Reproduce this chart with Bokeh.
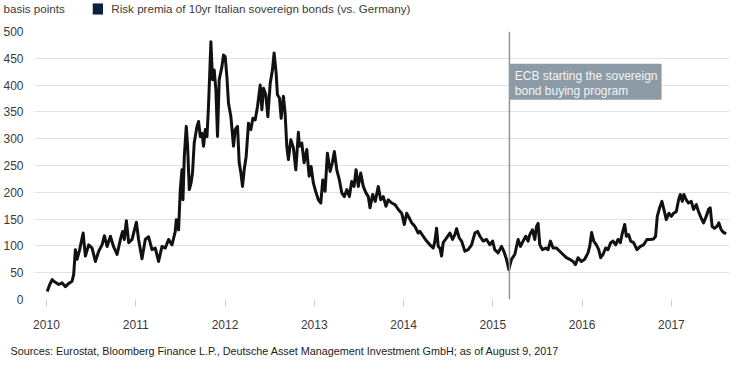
from bokeh.plotting import figure
from bokeh.models import Range1d, FixedTicker, Label, BoxAnnotation, Span
from bokeh.embed import file_html
from bokeh.resources import INLINE

# ---- data ----
years = [
    2010.008, 2010.037, 2010.064, 2010.082, 2010.138, 2010.176, 2010.213, 2010.249, 2010.287, 2010.305,
    2010.324, 2010.343, 2010.372, 2010.411, 2010.436, 2010.473, 2010.511, 2010.548, 2010.585, 2010.623,
    2010.649, 2010.679, 2010.716, 2010.753, 2010.791, 2010.828, 2010.853, 2010.872, 2010.895, 2010.921,
    2010.959,
    2011.007, 2011.032, 2011.070, 2011.107, 2011.144, 2011.182, 2011.219, 2011.256, 2011.294, 2011.331,
    2011.368, 2011.406, 2011.443, 2011.454, 2011.480, 2011.499, 2011.518, 2011.529, 2011.544, 2011.566,
    2011.581, 2011.600, 2011.619, 2011.636, 2011.655, 2011.686, 2011.704, 2011.723, 2011.742, 2011.760,
    2011.779, 2011.798, 2011.815, 2011.842, 2011.860, 2011.879, 2011.898, 2011.916, 2011.935, 2011.965,
    2011.983,
    2012.002, 2012.021, 2012.039, 2012.066, 2012.095, 2012.114, 2012.140, 2012.159, 2012.178, 2012.196,
    2012.215, 2012.237, 2012.263, 2012.290, 2012.312, 2012.338, 2012.364, 2012.394, 2012.413, 2012.431,
    2012.457, 2012.480, 2012.506, 2012.531, 2012.550, 2012.573, 2012.587, 2012.610, 2012.629, 2012.654,
    2012.673, 2012.692, 2012.710, 2012.737, 2012.766, 2012.793, 2012.822, 2012.833, 2012.860, 2012.886,
    2012.916, 2012.942, 2012.964, 2012.990,
    2013.020, 2013.046, 2013.073, 2013.095, 2013.121, 2013.147, 2013.177, 2013.202, 2013.225, 2013.252,
    2013.281, 2013.308, 2013.337, 2013.364, 2013.393, 2013.419, 2013.445, 2013.468, 2013.493, 2013.520,
    2013.549, 2013.579, 2013.605, 2013.624, 2013.654, 2013.683, 2013.717, 2013.744, 2013.773, 2013.803,
    2013.829, 2013.867, 2013.904, 2013.941, 2013.979,
    2014.008, 2014.035, 2014.064, 2014.091, 2014.128, 2014.164, 2014.183, 2014.220, 2014.258, 2014.295,
    2014.332, 2014.351, 2014.370, 2014.388, 2014.407, 2014.426, 2014.444, 2014.482, 2014.519, 2014.549,
    2014.575, 2014.594, 2014.623, 2014.650, 2014.687, 2014.724, 2014.762, 2014.799, 2014.829, 2014.855,
    2014.892, 2014.930, 2014.966, 2014.997,
    2015.022, 2015.059, 2015.097, 2015.123, 2015.153, 2015.179, 2015.209, 2015.246, 2015.283, 2015.310,
    2015.339, 2015.369, 2015.395, 2015.414, 2015.444, 2015.470, 2015.489, 2015.507, 2015.526, 2015.556,
    2015.593, 2015.619, 2015.645, 2015.675, 2015.713, 2015.749, 2015.786, 2015.824, 2015.861, 2015.898,
    2015.925, 2015.954, 2015.992,
    2016.029, 2016.066, 2016.085, 2016.107, 2016.130, 2016.160, 2016.186, 2016.208, 2016.234, 2016.264,
    2016.290, 2016.320, 2016.346, 2016.376, 2016.402, 2016.428, 2016.451, 2016.477, 2016.496, 2016.521,
    2016.544, 2016.577, 2016.614, 2016.652, 2016.689, 2016.726, 2016.764, 2016.801, 2016.823, 2016.842,
    2016.868, 2016.894, 2016.916, 2016.943, 2016.972, 2016.999,
    2017.025, 2017.055, 2017.081, 2017.100, 2017.122, 2017.140, 2017.167, 2017.192, 2017.223, 2017.248,
    2017.279, 2017.304, 2017.334, 2017.360, 2017.390, 2017.416, 2017.435, 2017.457, 2017.483, 2017.509,
    2017.531, 2017.558, 2017.584, 2017.614,
]

spread_bp = [
    15, 28, 37, 34, 28, 31, 24, 30, 34, 47,
    93, 75, 93, 124, 81, 102, 96, 71, 90, 102,
    119, 99, 118, 98, 84, 112, 127, 112, 147, 106,
    112,
    144, 112, 76, 112, 117, 93, 96, 71, 99, 96,
    112, 102, 127, 149, 130, 205, 242, 186, 267, 323,
    286, 205, 217, 236, 292, 323, 332, 304, 310, 286,
    317, 304, 360, 481, 410, 428, 391, 304, 410, 434,
    456,
    453, 416, 366, 341, 286, 317, 323, 255, 236, 211,
    242, 267, 329, 317, 338, 335, 360, 400, 354, 394,
    382, 341, 403, 428, 460, 422, 382, 376, 338, 379,
    348, 286, 261, 298, 283, 242, 312, 286, 292, 255,
    280, 230, 248, 217,
    199, 186, 180, 223, 202, 273, 239, 255, 276, 242,
    223, 199, 192, 205, 192, 220, 211, 242, 211, 236,
    211, 199, 192, 171, 196, 183, 211, 186, 192, 174,
    186, 180, 177, 168, 161,
    140, 161, 152, 143, 136, 124, 127, 118, 109, 102,
    96, 109, 133, 99, 96, 81, 106, 115, 124, 112,
    121, 132, 115, 109, 90, 93, 102, 124, 127, 118,
    109, 112, 102, 109,
    93, 87, 99, 90, 75, 56, 75, 84, 112, 99,
    109, 118, 109, 121, 130, 112, 136, 142, 102, 93,
    96, 93, 109, 96, 96, 90, 84, 78, 75, 71,
    65, 78, 71,
    75, 87, 99, 125, 109, 102, 93, 78, 84, 96,
    93, 106, 109, 102, 112, 106, 124, 140, 118, 121,
    109, 106, 93, 99, 102, 112, 112, 113, 118, 155,
    171, 183, 168, 149, 161, 155,
    161, 164, 186, 196, 183, 196, 186, 180, 183, 168,
    177, 164, 152, 143, 155, 168, 171, 136, 133, 136,
    143, 130, 125, 123,
]

x_ticks = [2010, 2011, 2012, 2013, 2014, 2015, 2016, 2017]
y_ticks = [0, 50, 100, 150, 200, 250, 300, 350, 400, 450, 500]
ecb_start = 2015.186  # 9 March 2015

unit_label = "basis points"
series_label = "Risk premia of 10yr Italian sovereign bonds (vs. Germany)"
note_lines = ["ECB starting the sovereign", "bond buying program"]
source_text = ("Sources: Eurostat, Bloomberg Finance L.P., Deutsche Asset Management "
               "Investment GmbH; as of August 9, 2017")

# ---- styling ----
FONT = "Liberation Sans"
TEXT = "#3a3a3a"
GRID = "#e2e2e2"
NOTE = "#8d9ba6"

p = figure(width=730, height=361, output_backend="svg", toolbar_location=None,
           x_range=Range1d(2009.866, 2017.651), y_range=Range1d(0, 500),
           min_border_left=33, min_border_right=1, min_border_top=31, min_border_bottom=62)
p.outline_line_color = None

p.xgrid.grid_line_color = None
p.ygrid.grid_line_color = GRID
p.ygrid.grid_line_width = 1

p.yaxis.ticker = FixedTicker(ticks=y_ticks)
p.yaxis.axis_line_color = None
p.yaxis.major_tick_line_color = None
p.yaxis.minor_tick_line_color = None
p.yaxis.major_tick_in = 0
p.yaxis.major_tick_out = 0
p.yaxis.major_label_standoff = 11
p.yaxis.major_label_text_font = FONT
p.yaxis.major_label_text_font_size = "12px"
p.yaxis.major_label_text_color = TEXT

p.xaxis.ticker = FixedTicker(ticks=x_ticks)
p.xaxis.axis_line_color = None
p.xaxis.major_tick_line_color = "#cfcfcf"
p.xaxis.minor_tick_line_color = None
p.xaxis.major_tick_in = 0
p.xaxis.major_tick_out = 7
p.xaxis.major_label_standoff = 13
p.xaxis.major_label_text_font = FONT
p.xaxis.major_label_text_font_size = "12px"
p.xaxis.major_label_text_color = TEXT

# ECB marker and note
p.add_layout(Span(location=ecb_start, dimension="height", line_color="#8a98a3", line_width=1.5))
p.add_layout(BoxAnnotation(left=ecb_start, right=2016.890, bottom=372.8, top=439.7,
                           fill_color=NOTE, fill_alpha=1.0, line_color=None))
for txt, yv in zip(note_lines, [416.1, 388.2]):
    p.add_layout(Label(x=2015.246, y=yv, text=txt, text_font=FONT, text_font_size="12px",
                       text_color="#f2f4f6", text_baseline="middle", text_align="left"))

# series
p.line(years, spread_bp, line_color="#111111", line_width=3, line_join="round")

# header texts (border panel above, so not clipped by the frame)
p.add_layout(Label(x=2009.519, y=542.9, text=unit_label, text_font=FONT, text_font_size="11.6px",
                   text_color=TEXT, text_baseline="middle", text_align="left"), "above")
p.add_layout(Label(x=2010.727, y=542.9, text=series_label, text_font=FONT, text_font_size="11.6px",
                   text_color=TEXT, text_baseline="middle", text_align="left"), "above")

# legend swatch and source line (border panel below)
p.add_layout(Label(x=2010.576, y=542.0, text="\u00a0", text_font=FONT, text_font_size="1px",
                   padding=5, background_fill_color="#0c1f3d", background_fill_alpha=1.0,
                   text_baseline="middle", text_align="center"), "below")
p.add_layout(Label(x=2009.597, y=-97.0, text=source_text, text_font=FONT, text_font_size="10.8px",
                   text_color="#222222", text_baseline="middle", text_align="left"), "below")

open("out.html", "w").write(file_html(p, INLINE))
